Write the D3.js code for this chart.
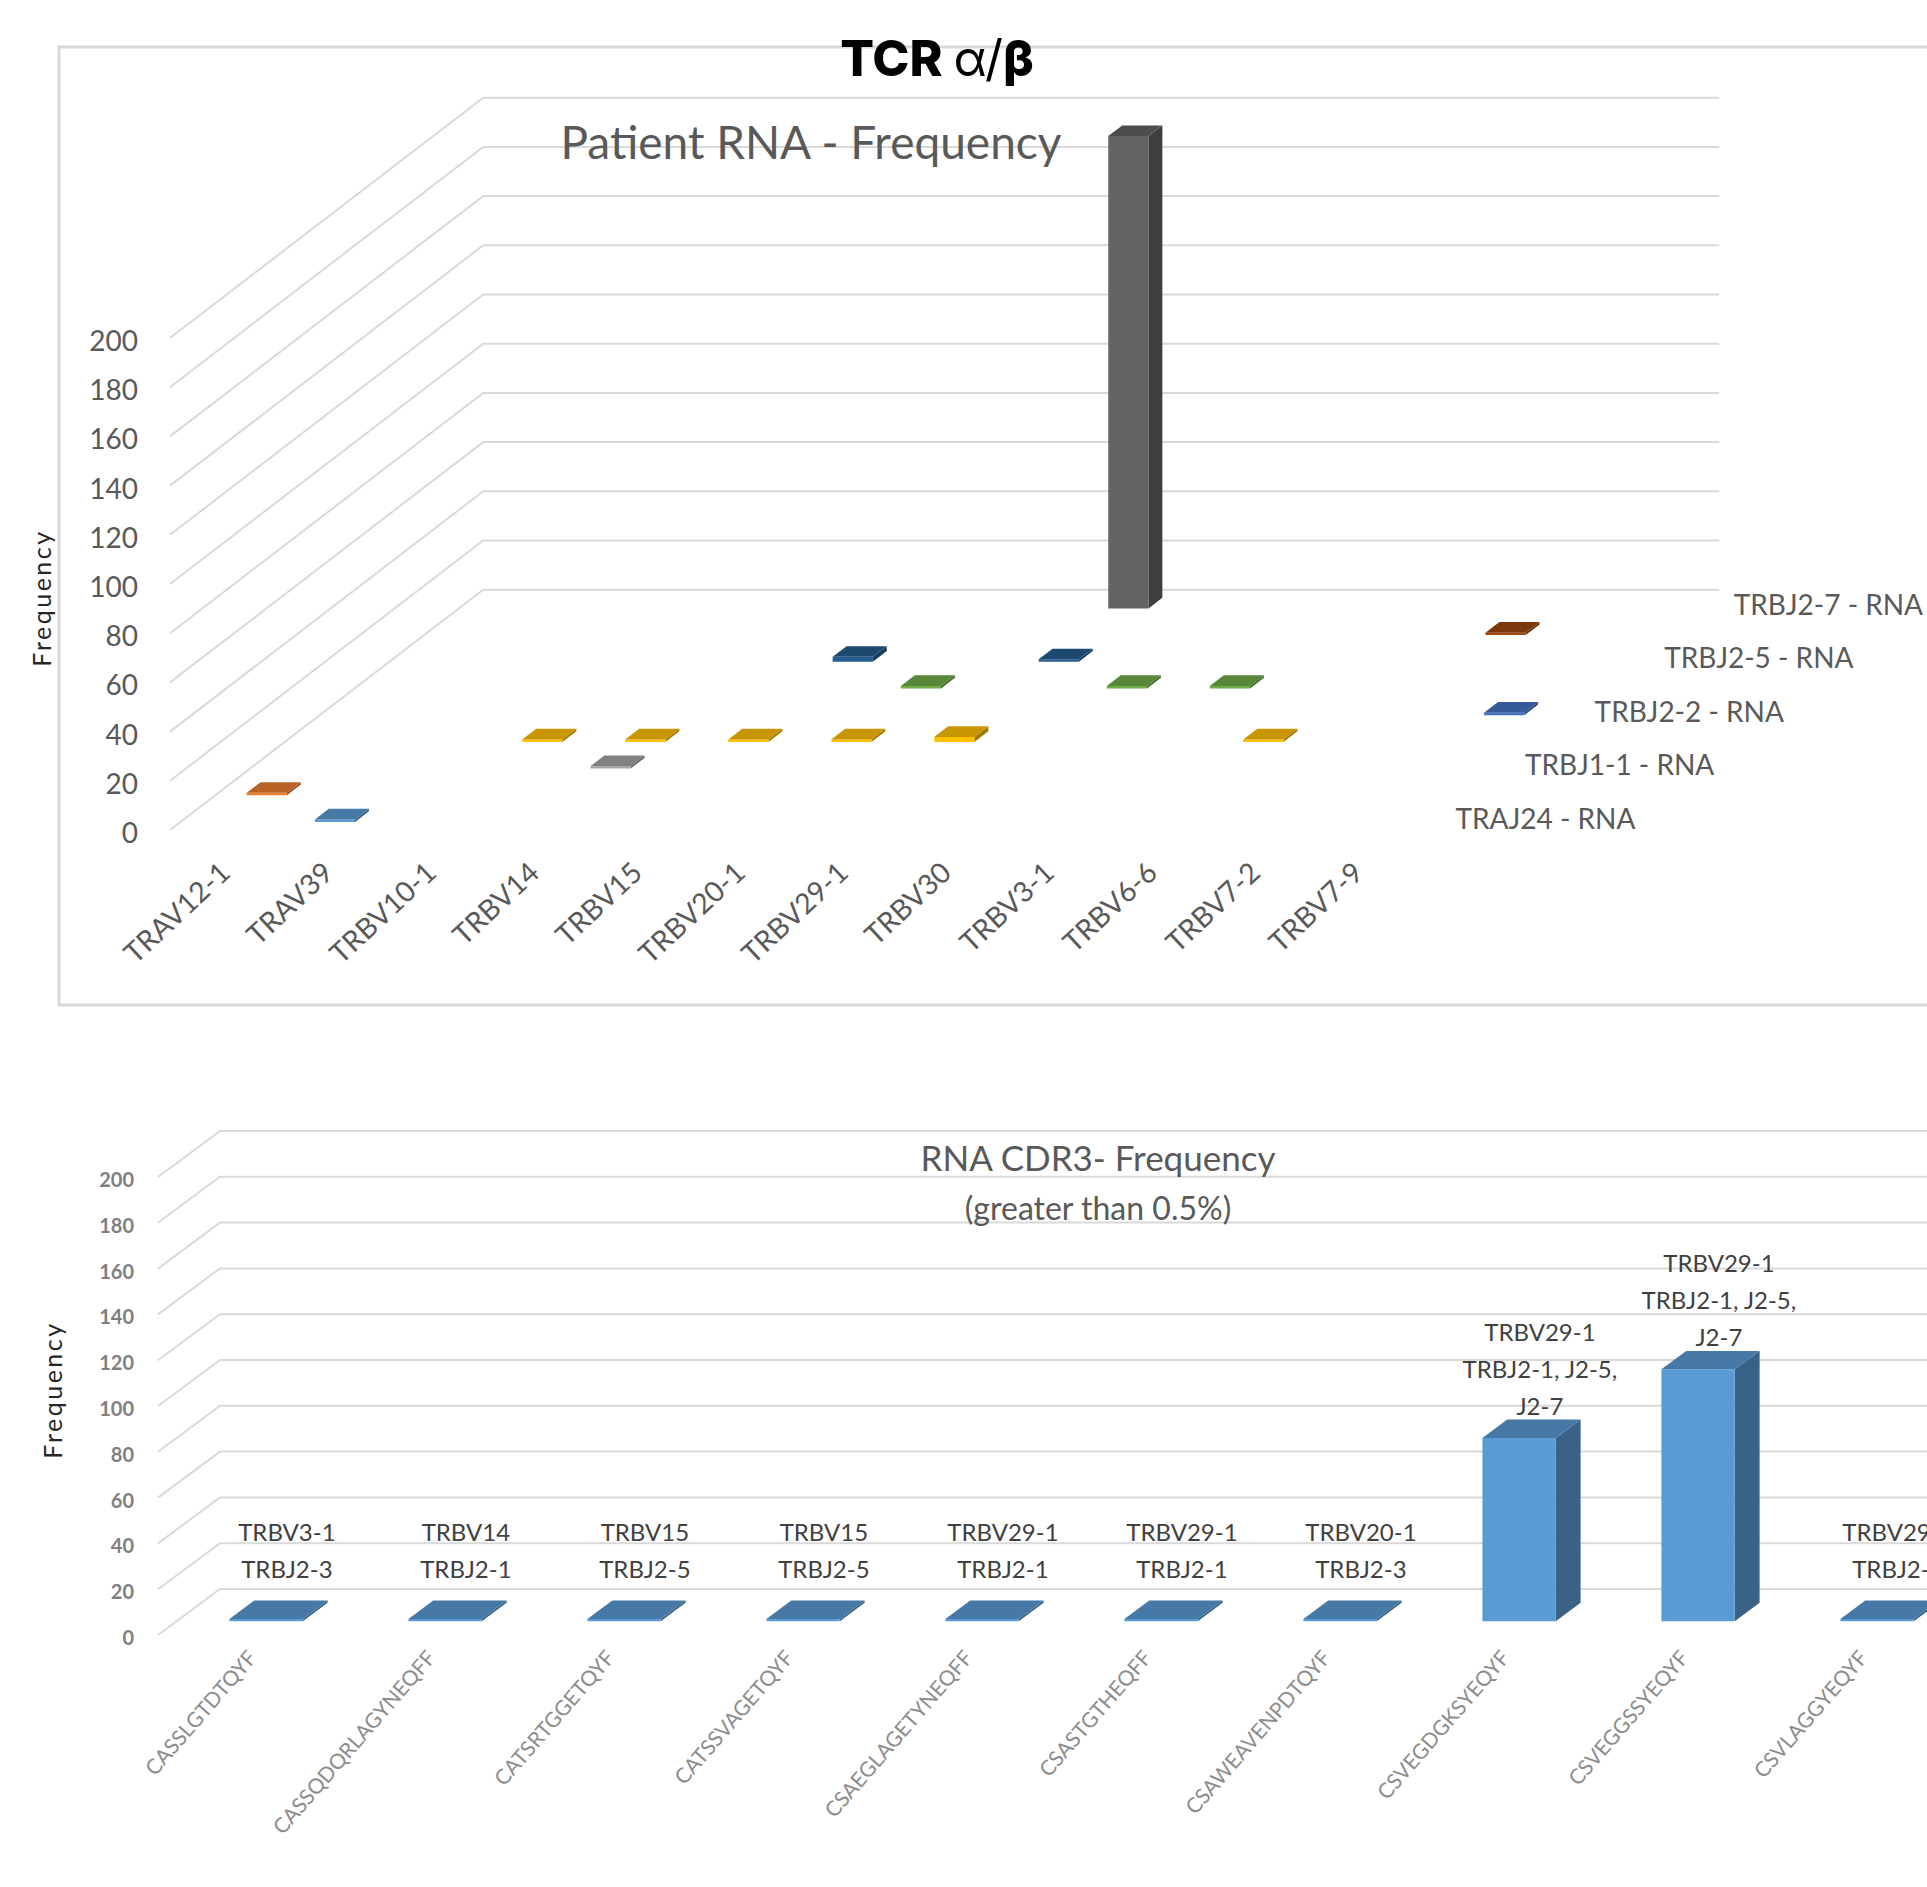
<!DOCTYPE html>
<html>
<head>
<meta charset="utf-8">
<script src="https://cdn.jsdelivr.net/npm/d3@7"></script>
<style>
  html, body { margin: 0; padding: 0; background: #fff; overflow: hidden; }
  svg { display: block; }
</style>
</head>
<body>
<svg id="chart" width="1927" height="1887"></svg>
<script>
// ---------- Patient RNA: V gene x J gene frequency ----------
const vGenes = ["TRAV12-1", "TRAV39", "TRBV10-1", "TRBV14", "TRBV15", "TRBV20-1",
                "TRBV29-1", "TRBV30", "TRBV3-1", "TRBV6-6", "TRBV7-2", "TRBV7-9"];
const jSeries = ["TRAJ24 - RNA", "TRAJ33 - RNA", "TRBJ1-1 - RNA", "TRBJ2-1 - RNA", "TRBJ2-2 - RNA",
                 "TRBJ2-3 - RNA", "TRBJ2-5 - RNA", "TRBJ2-6 - RNA", "TRBJ2-7 - RNA"];
const jColors = ["#5B9BD5", "#ED7D31", "#A5A5A5", "#FFC000", "#4472C4",
                 "#70AD47", "#255E91", "#9E480E", "#636363"];
// [V gene, J gene, frequency]
const rnaCells = [
  ["TRAV39",   "TRAJ24 - RNA",  1],
  ["TRAV12-1", "TRAJ33 - RNA",  1],
  ["TRBV14",   "TRBJ1-1 - RNA", 1],
  ["TRBV10-1", "TRBJ2-1 - RNA", 1],
  ["TRBV14",   "TRBJ2-1 - RNA", 1],
  ["TRBV15",   "TRBJ2-1 - RNA", 1],
  ["TRBV20-1", "TRBJ2-1 - RNA", 1],
  ["TRBV29-1", "TRBJ2-1 - RNA", 2],
  ["TRBV6-6",  "TRBJ2-1 - RNA", 1],
  ["TRBV7-9",  "TRBJ2-2 - RNA", 1],
  ["TRBV20-1", "TRBJ2-3 - RNA", 1],
  ["TRBV30",   "TRBJ2-3 - RNA", 1],
  ["TRBV3-1",  "TRBJ2-3 - RNA", 1],
  ["TRBV15",   "TRBJ2-5 - RNA", 2],
  ["TRBV29-1", "TRBJ2-5 - RNA", 1],
  ["TRBV7-2",  "TRBJ2-6 - RNA", 1],
  ["TRBV29-1", "TRBJ2-7 - RNA", 192]
];
const freqTicks = [0, 20, 40, 60, 80, 100, 120, 140, 160, 180, 200];

// ---------- RNA CDR3 frequency (greater than 0.5%) ----------
const cdr3Seqs = ["CASSLGTDTQYF", "CASSQDQRLAGYNEQFF", "CATSRTGGETQYF", "CATSSVAGETQYF",
                  "CSAEGLAGETYNEQFF", "CSASTGTHEQFF", "CSAWEAVENPDTQYF", "CSVEGDGKSYEQYF",
                  "CSVEGGSSYEQYF", "CSVLAGGYEQYF"];
const cdr3Freq = [1, 1, 1, 1, 1, 1, 1, 80, 110, 1];
const cdr3Genes = [
  ["TRBV3-1", "TRBJ2-3"],
  ["TRBV14", "TRBJ2-1"],
  ["TRBV15", "TRBJ2-5"],
  ["TRBV15", "TRBJ2-5"],
  ["TRBV29-1", "TRBJ2-1"],
  ["TRBV29-1", "TRBJ2-1"],
  ["TRBV20-1", "TRBJ2-3"],
  ["TRBV29-1", "TRBJ2-1, J2-5,", "J2-7"],
  ["TRBV29-1", "TRBJ2-1, J2-5,", "J2-7"],
  ["TRBV29-1", "TRBJ2-1"]
];
const cdr3Color = "#5B9BD5";

// ---------- helpers ----------
const svg = d3.select("#chart");
const FONT = "Lato, 'Open Sans', sans-serif";
const GRID = "#d9d9d9";

// Oblique projection: x along the floor (px), z in depth rows, h height (px)
function oblique(ox, oy, ddx, ddy) {
  return (x, z, h) => [ox + x + z * ddx, oy - z * ddy - h];
}
function shade(c, f) {
  const r = d3.rgb(c);
  return d3.rgb(r.r * f, r.g * f, r.b * f).formatHex();
}
const poly = pts => "M" + pts.map(p => p.join(",")).join("L") + "Z";

function drawBar(g, P, x0, x1, z0, z1, h, color) {
  // right side
  g.append("path").attr("d", poly([P(x1, z0, 0), P(x1, z1, 0), P(x1, z1, h), P(x1, z0, h)]))
    .attr("fill", shade(color, 0.63));
  // front
  g.append("path").attr("d", poly([P(x0, z0, 0), P(x1, z0, 0), P(x1, z0, h), P(x0, z0, h)]))
    .attr("fill", color);
  // top
  g.append("path").attr("d", poly([P(x0, z0, h), P(x1, z0, h), P(x1, z1, h), P(x0, z1, h)]))
    .attr("fill", shade(color, 0.78));
}

function drawWalls(g, P, y, W, depth, tickGap, tickSize, tickColor, tickWeight) {
  freqTicks.forEach(t => {
    const h = y(t);
    g.append("path")
      .attr("d", "M" + [P(0, 0, h), P(0, depth, h), P(W, depth, h)].map(p => p.join(",")).join("L"))
      .attr("fill", "none").attr("stroke", GRID).attr("stroke-width", 2);
    const a = P(0, 0, h);
    g.append("text").attr("x", a[0] - tickGap).attr("y", a[1] + 2)
      .attr("text-anchor", "end").attr("dominant-baseline", "central")
      .attr("font-family", FONT).attr("font-size", tickSize)
      .attr("font-weight", tickWeight).attr("fill", tickColor).text(t);
  });
}

// ---------- page title ----------
svg.append("rect").attr("x", 59).attr("y", 47).attr("width", 1900).attr("height", 958)
  .attr("fill", "none").attr("stroke", GRID).attr("stroke-width", 3);

const title = svg.append("text").attr("x", 937).attr("y", 58)
  .attr("text-anchor", "middle").attr("dominant-baseline", "central")
  .attr("font-family", "Inter, 'Open Sans', sans-serif").attr("font-size", 50).attr("fill", "#000");
title.append("tspan").attr("font-weight", 800).text("TCR ");
title.append("tspan").attr("font-weight", 400).text("α/");
title.append("tspan").attr("font-weight", 800).text("β");

// ---------- top chart ----------
{
  const g = svg.append("g");
  const W = 1236, rows = jSeries.length;
  const P = oblique(170, 830, 34.8, 26.7);
  const x = d3.scaleBand().domain(vGenes).range([0, W]).paddingInner(0.61).paddingOuter(0.305);
  const z = d3.scaleBand().domain(jSeries).range([0, rows]).paddingInner(0.6).paddingOuter(0.3);
  const y = d3.scaleLinear().domain([0, 200]).range([0, 492]);

  drawWalls(g, P, y, W, rows, 32, 28, "#595959", 400);

  g.append("text").attr("x", 811).attr("y", 141).attr("text-anchor", "middle")
    .attr("dominant-baseline", "central").attr("font-family", FONT).attr("font-size", 46)
    .attr("fill", "#595959").text("Patient RNA - Frequency");

  const cells = rnaCells.slice().sort((a, b) =>
    d3.descending(jSeries.indexOf(a[1]), jSeries.indexOf(b[1])) ||
    d3.ascending(vGenes.indexOf(a[0]), vGenes.indexOf(b[0])));
  cells.forEach(([v, j, f]) => {
    const x0 = x(v), x1 = x0 + x.bandwidth();
    const z0 = z(j), z1 = z0 + z.bandwidth();
    drawBar(g, P, x0, x1, z0, z1, y(f), jColors[jSeries.indexOf(j)]);
  });

  // category labels
  vGenes.forEach(v => {
    const c = P(x(v) + x.bandwidth() / 2, 0, 0);
    g.append("text").attr("transform", `translate(${c[0] + 3},${c[1] + 37}) rotate(-43)`)
      .attr("text-anchor", "end").attr("dominant-baseline", "central")
      .attr("font-family", FONT).attr("font-size", 28.5).attr("fill", "#595959").text(v);
  });

  // depth (series) labels, every other row
  jSeries.forEach((j, i) => {
    if (i % 2) return;
    const c = P(W, z(j) + z.bandwidth() / 2, 0);
    g.append("text").attr("x", c[0] + 32).attr("y", c[1] + 1)
      .attr("dominant-baseline", "central").attr("font-family", FONT).attr("font-size", 28)
      .attr("fill", "#595959").text(j);
  });

  g.append("text").attr("transform", "translate(41,598) rotate(-90)")
    .attr("text-anchor", "middle").attr("dominant-baseline", "central")
    .attr("font-family", FONT).attr("font-size", 25).attr("letter-spacing", 2.5)
    .attr("fill", "#262626").text("Frequency");
}

// ---------- bottom chart ----------
{
  const g = svg.append("g");
  const step = 179, W = step * cdr3Seqs.length;
  const P = oblique(158, 1635, 62, 46);
  const x = d3.scaleBand().domain(cdr3Seqs).range([0, W]).paddingInner(0.59).paddingOuter(0.295);
  const z = d3.scaleBand().domain(["freq"]).range([0, 1]).paddingInner(0.6).paddingOuter(0.3);
  const y = d3.scaleLinear().domain([0, 200]).range([0, 458]);

  drawWalls(g, P, y, W, 1, 24, 20, "#7f7f7f", 700);

  g.append("text").attr("x", 1098).attr("y", 1157).attr("text-anchor", "middle")
    .attr("dominant-baseline", "central").attr("font-family", FONT).attr("font-size", 35)
    .attr("fill", "#595959").text("RNA CDR3- Frequency");
  g.append("text").attr("x", 1098).attr("y", 1207).attr("text-anchor", "middle")
    .attr("dominant-baseline", "central").attr("font-family", FONT).attr("font-size", 32)
    .attr("fill", "#595959").text("(greater than 0.5%)");

  const z0 = z("freq"), z1 = z0 + z.bandwidth();
  cdr3Seqs.forEach((s, i) => {
    const x0 = x(s), x1 = x0 + x.bandwidth();
    const h = y(cdr3Freq[i]);
    drawBar(g, P, x0, x1, z0, z1, h, cdr3Color);

    // data label stacked above the bar
    const topBack = P((x0 + x1) / 2, z1, h);
    const floorY = P(0, 0, 0)[1];
    const lines = cdr3Genes[i];
    const lastY = Math.min(topBack[1] - 14, floorY - 67);
    lines.forEach((t, k) => {
      g.append("text").attr("x", topBack[0] - 4).attr("y", lastY - (lines.length - 1 - k) * 37)
        .attr("text-anchor", "middle").attr("dominant-baseline", "central")
        .attr("font-family", FONT).attr("font-size", 24).attr("fill", "#404040").text(t);
    });

    const c = P(x(s) + x.bandwidth() / 2, 0, 0);
    g.append("text").attr("transform", `translate(${c[0] + 4},${c[1] + 18}) rotate(-49)`)
      .attr("text-anchor", "end").attr("dominant-baseline", "central")
      .attr("font-family", FONT).attr("font-size", 21).attr("fill", "#8c8c8c").text(s);
  });

  g.append("text").attr("transform", "translate(52,1390) rotate(-90)")
    .attr("text-anchor", "middle").attr("dominant-baseline", "central")
    .attr("font-family", FONT).attr("font-size", 25).attr("letter-spacing", 2.5)
    .attr("fill", "#262626").text("Frequency");
}
</script>
</body>
</html>
